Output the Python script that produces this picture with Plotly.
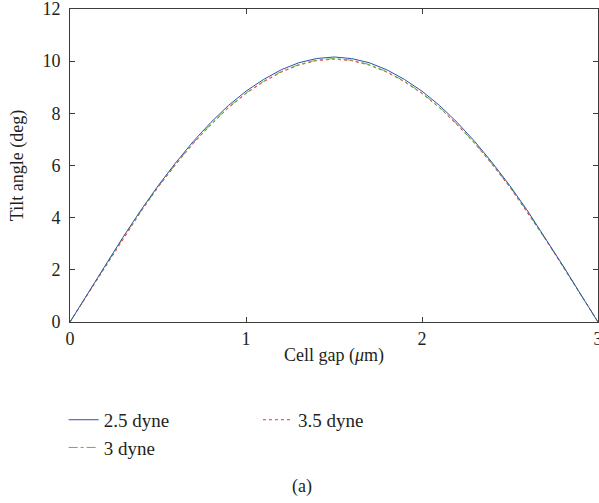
import plotly.graph_objects as go

# Cell gap positions (um)
cell_gap = [0.0, 0.1, 0.2, 0.3, 0.4, 0.5, 0.6, 0.7, 0.8, 0.9, 1.0,
            1.1, 1.2, 1.3, 1.4, 1.5, 1.6, 1.7, 1.8, 1.9, 2.0,
            2.1, 2.2, 2.3, 2.4, 2.5, 2.6, 2.7, 2.8, 2.9, 3.0]

# Tilt angle profiles (deg) for each anchoring strength
tilt_2_5 = [0, 1.08, 2.17, 3.24, 4.26, 5.22, 6.10, 6.92, 7.65, 8.30, 8.85,
            9.30, 9.67, 9.94, 10.10, 10.16, 10.10, 9.94, 9.67, 9.30, 8.85,
            8.30, 7.65, 6.92, 6.10, 5.22, 4.26, 3.24, 2.17, 1.08, 0]
tilt_3_0 = [0, 1.07, 2.15, 3.21, 4.22, 5.18, 6.05, 6.86, 7.58, 8.23, 8.78,
            9.23, 9.60, 9.87, 10.04, 10.10, 10.04, 9.87, 9.60, 9.23, 8.78,
            8.23, 7.58, 6.86, 6.05, 5.18, 4.22, 3.21, 2.15, 1.07, 0]
tilt_3_5 = [0, 1.06, 2.13, 3.19, 4.20, 5.16, 6.03, 6.84, 7.56, 8.21, 8.76,
            9.21, 9.58, 9.85, 10.02, 10.08, 10.02, 9.85, 9.58, 9.21, 8.76,
            8.21, 7.56, 6.84, 6.03, 5.16, 4.20, 3.19, 2.13, 1.06, 0]

x_ticks = [0, 1, 2, 3]
y_ticks = [0, 2, 4, 6, 8, 10, 12]

FONT = "Times New Roman"
INK = "#231f20"
AXIS = "#3c3c3c"

fig = go.Figure()

# drawn back to front; the first legend box holds 2.5 and 3 dyne, the second 3.5 dyne
fig.add_trace(go.Scatter(x=cell_gap, y=tilt_3_5, mode="lines", name="3.5 dyne",
                         line=dict(color="#ff2a2a", width=1, dash="dot"),
                         legend="legend2"))
fig.add_trace(go.Scatter(x=cell_gap, y=tilt_3_0, mode="lines", name="3 dyne",
                         line=dict(color="#5cb83a", width=1, dash="dashdot"),
                         legend="legend", legendrank=2))
fig.add_trace(go.Scatter(x=cell_gap, y=tilt_2_5, mode="lines", name="2.5 dyne",
                         line=dict(color="#3050b0", width=1, dash="solid"),
                         legend="legend", legendrank=1))

axis_common = dict(
    showline=True, linecolor=AXIS, linewidth=1, mirror="ticks",
    ticks="inside", ticklen=5, tickcolor=AXIS, tickwidth=1,
    showgrid=False, zeroline=False, ticklabeloverflow="allow",
    tickfont=dict(family=FONT, size=18, color=INK),
)

legend_common = dict(
    orientation="v", yanchor="top", xanchor="left",
    font=dict(family=FONT, size=19, color=INK),
    bgcolor="rgba(0,0,0,0)", itemwidth=30, tracegroupgap=0,
)

fig.update_layout(
    template="none",
    width=599, height=503,
    margin=dict(l=70, r=1, t=9, b=181),
    paper_bgcolor="white", plot_bgcolor="white",
    font=dict(family=FONT, color=INK, size=18),
    xaxis=dict(range=[0, 3], tickvals=x_ticks,
               title=dict(text="Cell gap (<i>μ</i>m)",
                          font=dict(family=FONT, size=18, color=INK),
                          standoff=0),
               **axis_common),
    yaxis=dict(range=[0, 12], tickvals=y_ticks, ticklabelstandoff=5,
               title=dict(text="Tilt angle (deg)",
                          font=dict(family=FONT, size=18, color=INK),
                          standoff=14),
               **axis_common),
    showlegend=True,
    legend=dict(x=-0.012, y=-0.252, traceorder="normal", **legend_common),
    legend2=dict(x=0.356, y=-0.252, **legend_common),
    annotations=[dict(text="(a)", xref="paper", yref="paper",
                      x=0.44, y=-0.527, xanchor="center", yanchor="middle",
                      showarrow=False,
                      font=dict(family=FONT, size=18, color=INK))],
)

fig.write_html("out.html")
